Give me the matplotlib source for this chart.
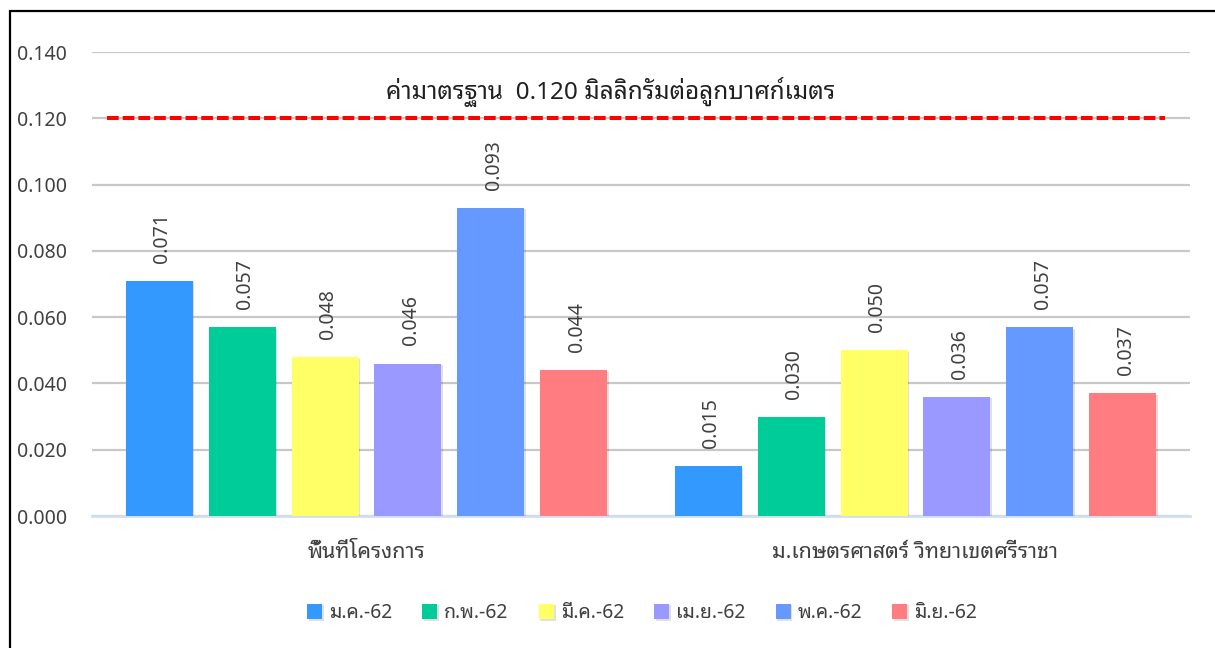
import numpy as np
import matplotlib
matplotlib.use("Agg")
import matplotlib.pyplot as plt
import matplotlib.patheffects as pe

# ข้อมูล
groups = ["พื้นที่โครงการ", "ม.เกษตรศาสตร์ วิทยาเขตศรีราชา"]
months = ["ม.ค.-62", "ก.พ.-62", "มี.ค.-62", "เม.ย.-62", "พ.ค.-62", "มิ.ย.-62"]
values = [
    [0.071, 0.015],
    [0.057, 0.030],
    [0.048, 0.050],
    [0.046, 0.036],
    [0.093, 0.057],
    [0.044, 0.037],
]
standard = 0.120
standard_label = "ค่ามาตรฐาน  0.120 มิลลิกรัมต่อลูกบาศก์เมตร"
yticks = [0.000, 0.020, 0.040, 0.060, 0.080, 0.100, 0.120, 0.140]

colors = ["#3399FF", "#00CC99", "#FFFF66", "#9999FF", "#6699FF", "#FF7C80"]

plt.rcParams["font.family"] = ["Noto Sans Thai Looped", "Noto Sans", "DejaVu Sans"]

fig = plt.figure(figsize=(12.15, 6.48), dpi=100)
ax = fig.add_axes([92 / 1215, 1 - 516 / 648, 1098 / 1215, 464 / 648])

x = np.arange(len(groups))
pitch = 0.151
width = 0.122
txt = "#404040"
shadow = [pe.SimplePatchShadow(offset=(1.2, -1.2), shadow_rgbFace="#000000", alpha=0.12),
          pe.Normal()]
for i, (m, vals) in enumerate(zip(months, values)):
    xs = x + (i - 2.5) * pitch
    bars = ax.bar(xs, vals, width, color=colors[i], label=m, zorder=3,
                  path_effects=shadow)
    for b, v in zip(bars, vals):
        ax.annotate(f"{v:.3f}", (b.get_x() + b.get_width() / 2, v),
                    xytext=(2, 13), textcoords="offset points",
                    rotation=90, ha="center", va="bottom", fontsize=14, color=txt,
                    zorder=5)

# เส้นค่ามาตรฐาน
ax.axhline(standard, xmin=15 / 1098, xmax=1073 / 1098, color="#FF0000", lw=2.9,
           ls=(0, (2.9, 1.0)), zorder=4)
ax.annotate(standard_label, (0.472, standard), xycoords=ax.get_yaxis_transform(),
            xytext=(0, 14), textcoords="offset points",
            ha="center", va="baseline", fontsize=17.5, color="#202020")

ax.set_xlim(-0.5, 1.5)
ax.set_ylim(0, 0.14)
ax.set_yticks(yticks)
ax.set_yticklabels([f"{t:.3f}" for t in yticks])
ax.set_xticks(x)
ax.set_xticklabels(groups, fontsize=15.5)
ax.tick_params(axis="both", length=0, labelsize=14, colors=txt)
ax.tick_params(axis="x", labelsize=15.5, pad=19)
ax.tick_params(axis="y", pad=18)
ax.grid(axis="y", color="#c8c8c8", lw=1.6, zorder=0)
for s in ["top", "right", "left"]:
    ax.spines[s].set_visible(False)
ax.spines["bottom"].set_color("#d0dff0")
ax.spines["bottom"].set_linewidth(2)
ax.spines["bottom"].set_zorder(2)

ax.legend(loc="center", bbox_to_anchor=(642 / 1215, 1 - 613 / 648),
          bbox_transform=fig.transFigure, ncol=6, frameon=False, fontsize=14,
          handlelength=0.78, handleheight=0.85, handletextpad=0.35, columnspacing=1.55,
          labelcolor=txt)

# กรอบภาพ
fig.patches.append(plt.Rectangle((10 / 1215, -0.1), 1.2, 1.1 - 11 / 648,
                                 transform=fig.transFigure, fill=False,
                                 edgecolor="black", lw=1.6))

fig.savefig("out.png", dpi=100)
